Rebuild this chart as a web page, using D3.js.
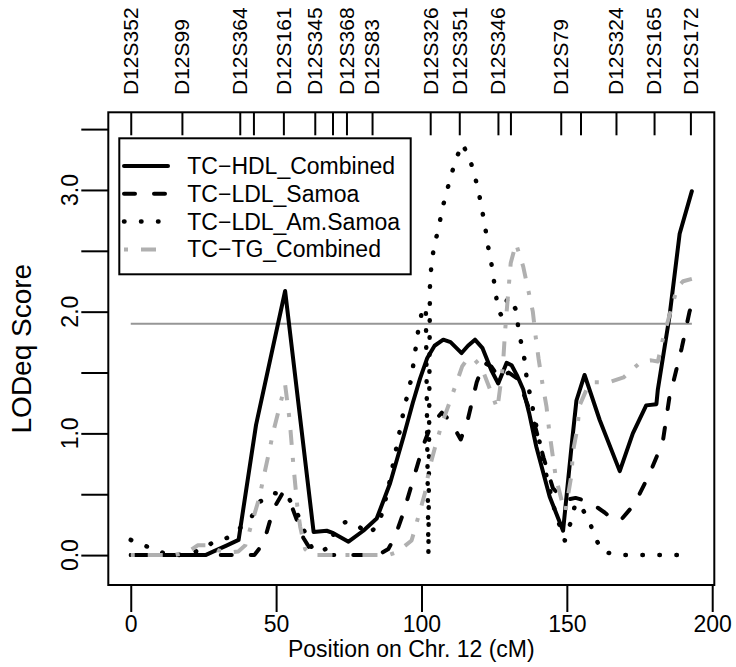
<!DOCTYPE html>
<html><head><meta charset="utf-8">
<script src="https://cdn.jsdelivr.net/npm/d3@7"></script>
<style>
html,body{margin:0;padding:0;background:#fff;}
svg text{font-family:"Liberation Sans",Arial,Helvetica,sans-serif;fill:#000;}
</style></head>
<body>
<svg id="chart" width="736" height="667"></svg>
<script>
// ---- data ----
const markerNames = ["D12S352","D12S99","D12S364","","D12S161","D12S345","","D12S368","D12S83","D12S326","D12S351","D12S346","","D12S79","","D12S324","D12S165","D12S172"];
const markerPos   = [0, 17.6, 37.5, 42.2, 52.5, 63.3, 69.4, 74.2, 83.0, 103.0, 113.0, 126.3, 130.6, 147.9, 154.7, 166.9, 180.0, 192.5];

const xTicks = [0, 50, 100, 150, 200];
const yTicks = [0, 0.5, 1, 1.5, 2, 2.5, 3, 3.5];
const yLabels = [0, 1, 2, 3];
const threshold = 1.9;

const hdlPos = [0, 10, 20, 25.7, 28.5, 33.1, 37.1, 43.1, 53.1, 62.9, 67.4, 69.7, 74.9, 80, 84.6, 89.2, 93.8, 97, 99.5, 102, 104.5, 107.5, 110, 113.8, 116, 118.4, 121, 124, 126.4, 129.3, 131, 133, 135, 137, 139.5, 144.1, 148.7, 151.6, 153.3, 156.1, 161.3, 168.2, 172.7, 177.3, 180.8, 181.3, 185.3, 188.8, 193];
const hdlLod = [0, 0, 0, 0, 0.03, 0.08, 0.125, 1.07, 2.17, 0.19, 0.2, 0.18, 0.11, 0.2, 0.3, 0.59, 0.97, 1.25, 1.45, 1.62, 1.72, 1.77, 1.75, 1.66, 1.72, 1.77, 1.7, 1.52, 1.41, 1.58, 1.56, 1.47, 1.36, 1.17, 0.89, 0.48, 0.2, 0.89, 1.27, 1.48, 1.11, 0.69, 1.0, 1.23, 1.24, 1.36, 1.96, 2.64, 2.99];

const ldlSamoaPos = [0, 20, 40, 42.5, 45.7, 49.1, 52, 55.4, 59.4, 63, 70, 80, 84, 86.5, 88.6, 90.9, 93.8, 96.9, 100.6, 103, 105.5, 107, 110, 113.5, 115.8, 119, 121.5, 124, 127, 130, 133, 135.5, 138.6, 142, 145.2, 149, 153, 156, 160, 163, 166.4, 169, 173.3, 178.5, 183, 185.3, 186.5, 189.5, 192.2, 193];
const ldlSamoaLod = [0, 0, 0, 0, 0.1, 0.38, 0.5, 0.4, 0.14, 0, 0, 0, 0, 0.02, 0.05, 0.15, 0.35, 0.6, 0.9, 1.05, 1.13, 1.17, 1.1, 0.95, 1.1, 1.42, 1.58, 1.55, 1.45, 1.5, 1.45, 1.3, 1.1, 0.8, 0.55, 0.45, 0.47, 0.45, 0.4, 0.35, 0.28, 0.3, 0.42, 0.67, 0.93, 1.3, 1.41, 1.7, 2.0, 2.06];

const ldlAmSamoaPos = [0, 5.6, 11, 16.3, 21, 25, 27.9, 33.7, 37.5, 41.7, 44.5, 49.1, 52, 54.3, 57.7, 60, 62.3, 65, 67, 70, 73.7, 77.2, 81.7, 85.2, 86.9, 89, 91.7, 94, 96.5, 98.9, 100.5, 101.5, 102.4, 102.9, 103.5, 104.6, 106, 107.1, 108.6, 110.1, 111.8, 114.1, 116.7, 118.4, 119.7, 120.8, 121.9, 122.7, 123.9, 124.7, 125.6, 126.4, 127.5, 129.8, 132.7, 133.3, 134.4, 135.5, 136.1, 137.3, 140, 143, 146, 149.3, 151.2, 152.7, 154, 157.6, 159.6, 162.2, 167.6, 175, 185, 193];
const ldlAmSamoaLod = [0.125, 0.07, 0.02, 0, 0.02, 0.05, 0.1, 0.146, 0.22, 0.32, 0.44, 0.51, 0.5, 0.47, 0.32, 0.18, 0.06, 0.02, 0.05, 0.18, 0.27, 0.26, 0.17, 0.25, 0.38, 0.6, 0.92, 1.2, 1.45, 1.85, 2.04, 2.02, 0, 2.2, 2.42, 2.56, 2.7, 2.84, 2.98, 3.11, 3.25, 3.38, 3.25, 3.11, 2.98, 2.84, 2.7, 2.56, 2.42, 2.29, 2.14, 2.01, 1.97, 2.12, 2.01, 1.86, 1.73, 1.6, 1.47, 1.32, 1.0, 0.65, 0.35, 0.12, 0.26, 0.4, 0.43, 0.29, 0.15, 0.03, 0, 0, 0, 0];

const tgPos = [0, 15, 20, 23, 27, 30, 34, 37, 39.4, 41.5, 44.2, 45.7, 47.6, 49.1, 51.1, 53.1, 54.7, 55.9, 57.3, 58.3, 60, 62, 75, 88.6, 91, 93.5, 96.6, 99.1, 101.2, 102.6, 104.6, 106.9, 109.6, 112.1, 114, 116.1, 118.5, 120.7, 124.1, 126.1, 128, 128.7, 129.4, 130.7, 132.5, 135, 136.7, 138.3, 139.3, 140.3, 141.6, 143, 143.9, 145, 146.2, 148.2, 149.5, 151.6, 152.1, 153.6, 154.4, 157.5, 159, 164.5, 169.5, 175.6, 179, 181.3, 183, 185.3, 188, 190, 193];
const tgLod = [0, 0, 0.03, 0.08, 0.08, 0.04, 0.02, 0.03, 0.08, 0.25, 0.47, 0.64, 0.85, 1.02, 1.21, 1.40, 1.1, 0.75, 0.4, 0.23, 0.05, 0, 0, 0, 0.02, 0.06, 0.12, 0.33, 0.51, 0.70, 0.88, 1.07, 1.25, 1.42, 1.55, 1.62, 1.6, 1.54, 1.33, 1.2, 1.55, 1.82, 2.03, 2.40, 2.56, 2.37, 2.18, 2.0, 1.79, 1.61, 1.41, 1.22, 1.03, 0.84, 0.64, 0.45, 0.36, 0.66, 0.85, 1.04, 1.23, 1.40, 1.42, 1.42, 1.46, 1.59, 1.6, 1.59, 1.77, 1.97, 2.2, 2.25, 2.27];

const seriesNames = ["TC\u2212HDL_Combined", "TC\u2212LDL_Samoa", "TC\u2212LDL_Am.Samoa", "TC\u2212TG_Combined"];

// ---- styles ----
const styles = [
  {color:"#000", width:4, dash:null, cap:"round"},
  {color:"#000", width:4, dash:"11,19", cap:"round"},
  {color:"#000", width:4.5, dash:"0.5,16.5", cap:"round"},
  {color:"#b0b0b0", width:4, dash:"4,13,15,13", cap:"butt"}
];

const svg = d3.select("#chart");
const L = 108.3, R = 714.3, T = 112.3, B = 585;
const x = d3.scaleLinear().domain([-7.72, 200.72]).range([L, R]);
const y = d3.scaleLinear().domain([-0.2457, 3.638]).range([B, T]);

// threshold
svg.append("line").attr("x1", x(0)).attr("x2", x(193)).attr("y1", y(threshold)).attr("y2", y(threshold))
  .attr("stroke", "#969696").attr("stroke-width", 2);

const line = d3.line().x(d => x(d[0])).y(d => y(d[1]));
const series = [
  d3.zip(hdlPos, hdlLod),
  d3.zip(ldlSamoaPos, ldlSamoaLod),
  d3.zip(ldlAmSamoaPos, ldlAmSamoaLod),
  d3.zip(tgPos, tgLod)
];
series.forEach((s, i) => {
  const st = styles[i];
  svg.append("path").attr("d", line(s)).attr("fill", "none")
    .attr("stroke", st.color).attr("stroke-width", st.width)
    .attr("stroke-linejoin", "round").attr("stroke-linecap", st.cap)
    .attr("stroke-dasharray", st.dash);
});

// box
svg.append("rect").attr("x", L).attr("y", T).attr("width", R - L).attr("height", B - T)
  .attr("fill", "none").attr("stroke", "#000").attr("stroke-width", 2);

// x axis
const xAxis = d3.axisBottom(x).tickValues(xTicks).tickSize(27).tickPadding(4).tickFormat(d3.format("d"));
const gx = svg.append("g").attr("transform", `translate(0,${B})`).call(xAxis);
gx.select(".domain").remove();
gx.selectAll(".tick line").attr("stroke", "#000").attr("stroke-width", 2);
gx.selectAll(".tick text").attr("font-size", 23).attr("fill", "#000");

// y axis
const yAxis = d3.axisLeft(y).tickValues(yTicks).tickSize(27).tickFormat(d => "");
const gy = svg.append("g").attr("transform", `translate(${L},0)`).call(yAxis);
gy.select(".domain").remove();
gy.selectAll(".tick line").attr("stroke", "#000").attr("stroke-width", 2);
svg.append("g").selectAll("text").data(yLabels).join("text")
  .attr("transform", d => `translate(78,${y(d)}) rotate(-90)`)
  .attr("text-anchor", "middle").attr("font-size", 23)
  .text(d3.format(".1f"));

// marker ticks (top, inside)
const gm = svg.append("g").attr("transform", `translate(0,${T})`)
  .call(d3.axisBottom(x).tickValues(markerPos).tickSize(23).tickFormat(""));
gm.select(".domain").remove();
gm.selectAll(".tick line").attr("stroke", "#000").attr("stroke-width", 2);
svg.append("g").selectAll("text").data(d3.zip(markerPos, markerNames).filter(d => d[1] !== "")).join("text")
  .attr("transform", d => `translate(${x(d[0])},95) rotate(-90)`)
  .attr("text-anchor", "start").attr("dy", "0.35em").attr("font-size", 21)
  .text(d => d[1]);

// axis titles
svg.append("text").attr("x", (L + R) / 2).attr("y", 657).attr("text-anchor", "middle")
  .attr("font-size", 23).text("Position on Chr. 12 (cM)");
svg.append("text").attr("transform", `translate(31,${(T + B) / 2}) rotate(-90)`).attr("text-anchor", "middle")
  .attr("font-size", 28).text("LODeq Score");

// legend
const lg = svg.append("g");
lg.append("rect").attr("x", 119.3).attr("y", 138.3).attr("width", 291.4).attr("height", 136)
  .attr("fill", "#fff").attr("stroke", "#000").attr("stroke-width", 2);
seriesNames.forEach((name, i) => {
  const st = styles[i];
  const yy = 166 + i * 27.8;
  lg.append("line").attr("x1", 124).attr("x2", 168).attr("y1", yy).attr("y2", yy)
    .attr("stroke", st.color).attr("stroke-width", st.width).attr("stroke-linecap", st.cap)
    .attr("stroke-dasharray", st.dash);
  lg.append("text").attr("x", 187.3).attr("y", yy + 8).attr("font-size", 23).text(name);
});
</script>
</body></html>
